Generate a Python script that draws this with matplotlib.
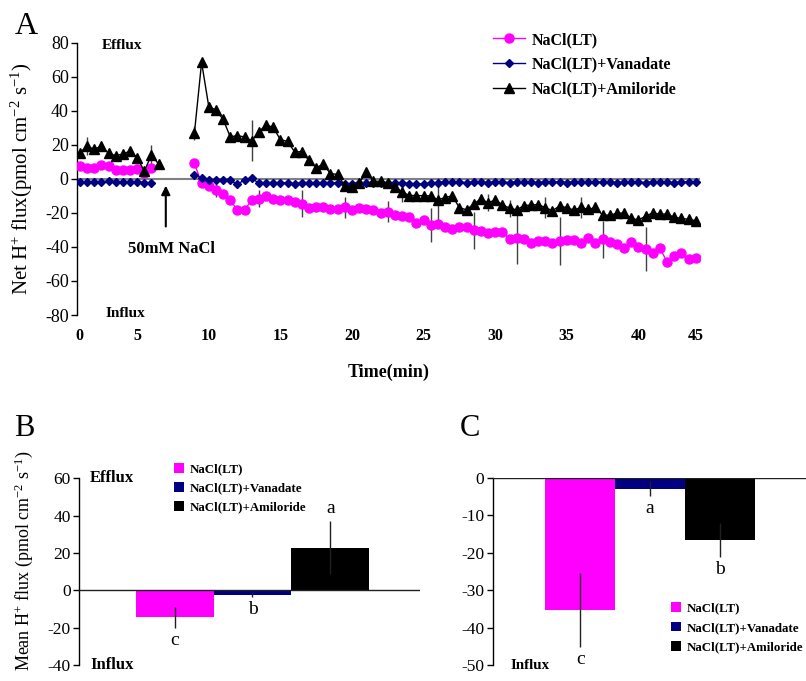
import numpy as np
import matplotlib
matplotlib.use('Agg')
import matplotlib.pyplot as plt
from matplotlib.patches import Patch
from matplotlib.lines import Line2D

plt.rcParams['font.family'] = ['Liberation Serif', 'DejaVu Serif']
plt.rcParams['mathtext.fontset'] = 'custom'
plt.rcParams['mathtext.rm'] = 'Liberation Serif'
plt.rcParams['mathtext.it'] = 'Liberation Serif:italic'
plt.rcParams['mathtext.bf'] = 'Liberation Serif:bold'
plt.rcParams['axes.unicode_minus'] = False

# ---------------- data ----------------
series_names = ['NaCl(LT)', 'NaCl(LT)+Vanadate', 'NaCl(LT)+Amiloride']
series_colors = ['#FF00FF', '#000080', '#000000']

# Panel A: samples before NaCl (start at sample 0) and after NaCl (start at sample 16)
pre_start = 0
post_start = 16
time_tick_samples = [0, 8, 18, 28, 38, 48, 58, 68, 78, 86]
time_tick_labels = ['0', '5', '10', '15', '20', '25', '30', '35', '40', '45']
nacl_sample = 12

pink_pre = [7.5, 6.5, 6.5, 8.3, 7.3, 5.0, 5.0, 5.0, 5.6, 3.4, 6.4]
blue_pre = [-1.7, -1.7, -1.7, -1.7, -1.3, -1.7, -1.7, -1.7, -1.7, -2.3, -2.3]
black_pre = [15.3, 19.3, 17.3, 19.3, 15.0, 13.6, 14.6, 16.3, 12.4, 4.6, 14.0, 8.7]

pink_post = [9.1, -2.7, -4.4, -6.8, -9.1, -12.5, -18.3, -18.2, -12.5, -11.8,
             -10.2, -11.8, -12.3, -12.7, -13.7, -14.5, -17.3, -16.5, -16.6, -17.5,
             -17.9, -16.8, -18.2, -17.0, -17.9, -18.3, -20.3, -19.3, -21.5, -21.9,
             -22.3, -25.7, -24.2, -27.1, -26.3, -28.2, -29.4, -28.5, -28.0, -30.2,
             -30.7, -31.6, -31.0, -31.3, -35.5, -35.0, -35.2, -37.5, -36.6, -36.6,
             -37.9, -36.4, -36.0, -36.0, -37.9, -35.0, -37.9, -35.5, -37.3, -38.5,
             -40.8, -37.3, -39.9, -41.4, -43.4, -40.8, -48.7, -45.4, -43.8, -47.3,
             -46.7]
blue_post = [2.5, 0.3, -0.7, -0.7, -0.7, -0.9, -3.3, -0.5, 0.3, -2.5,
             -2.3, -2.3, -2.3, -2.3, -2.8, -2.3, -2.3, -2.3, -2.3, -2.3,
             -2.3, -2.8, -2.8, -2.3, -2.3, -2.3, -2.3, -2.3, -2.3, -2.3,
             -2.8, -2.8, -3.1, -2.3, -2.3, -1.8, -1.8, -1.8, -2.3, -1.8,
             -1.8, -2.3, -1.8, -1.8, -2.3, -1.8, -1.8, -1.8, -2.3, -1.8,
             -1.8, -1.8, -2.3, -1.8, -1.8, -1.8, -1.8, -1.8, -1.8, -2.3,
             -1.8, -1.8, -1.8, -2.3, -1.8, -1.8, -1.8, -2.3, -1.8, -1.8,
             -1.8]
black_post = [27.0, 68.5, 42.5, 40.4, 35.0, 24.7, 25.4, 24.6, 22.3, 27.7,
              31.6, 30.3, 23.0, 22.0, 15.8, 16.0, 10.8, 6.6, 8.6, 3.0,
              2.7, -4.4, -4.8, -2.3, 3.9, -1.4, -1.4, -2.7, -4.6, -7.6,
              -9.8, -9.8, -9.9, -10.0, -12.3, -11.0, -10.0, -16.9, -18.2, -14.7,
              -11.8, -14.0, -12.5, -15.1, -17.3, -18.2, -15.7, -15.4, -15.1, -16.9,
              -18.7, -15.9, -17.0, -18.3, -16.8, -18.0, -16.8, -21.3, -21.3, -20.3,
              -20.0, -23.2, -24.2, -21.9, -20.0, -20.7, -20.7, -22.6, -23.2, -23.8,
              -24.6]

pink_err_samples = [19, 25, 31, 37, 43, 49, 55, 61, 67, 73, 79]
pink_err = [4, 5, 8, 6, 6, 10, 11, 15, 14, 11, 13]
black_err_samples = [1, 10, 16, 24, 45, 50, 57, 60, 65, 70]
black_err = [5.5, 6, 4, 12, 6, 13, 5, 5, 6, 6]

# Panel B and C: mean H+ flux
B_values = [-14.4, -2.3, 22.8]
B_err = [5.6, 1.3, 14.3]
B_letters = ['c', 'b', 'a']
C_values = [-35.3, -3.0, -16.6]
C_err = [9.8, 2.0, 4.5]
C_letters = ['c', 'a', 'b']

# ---------------- figure ----------------
W, H = 806, 681
fig = plt.figure(figsize=(W / 100, H / 100), dpi=100)


def box(l, t, r, b):
    return [l / W, 1 - b / H, (r - l) / W, (b - t) / H]


def style_left_axis(ax):
    for s in ['top', 'right', 'bottom']:
        ax.spines[s].set_visible(False)
    ax.spines['left'].set_linewidth(1.0)
    ax.tick_params(axis='y', direction='out', length=4, width=1, pad=2)


markers = ['o', 'D', '^']
msizes = [6.5, 4.3, 7]

# ---------- Panel A ----------
axA = fig.add_axes(box(77, 42.7, 700, 315))
style_left_axis(axA)
axA.axhline(0, color='#808080', lw=1.5, zorder=1)

pre_sets = [pink_pre, blue_pre, black_pre]
post_sets = [pink_post, blue_post, black_post]
draw_order = [1, 0, 2]
for i in draw_order:
    xs_pre = np.arange(len(pre_sets[i])) + pre_start
    xs_post = np.arange(len(post_sets[i])) + post_start
    for xs, ys in [(xs_pre, pre_sets[i]), (xs_post, post_sets[i])]:
        axA.plot(xs, ys, color=series_colors[i], lw=1.0, marker=markers[i],
                 ms=msizes[i], mec=series_colors[i], mfc=series_colors[i],
                 zorder=3 + i)

all_pink = dict(zip(list(np.arange(len(pink_pre)) + pre_start) +
                    list(np.arange(len(pink_post)) + post_start),
                    pink_pre + pink_post))
all_black = dict(zip(list(np.arange(len(black_pre)) + pre_start) +
                     list(np.arange(len(black_post)) + post_start),
                     black_pre + black_post))
axA.errorbar(pink_err_samples, [all_pink[s] for s in pink_err_samples],
             yerr=pink_err, fmt='none', ecolor='#404040', elinewidth=1.0,
             capsize=0, zorder=2)
axA.errorbar(black_err_samples, [all_black[s] for s in black_err_samples],
             yerr=black_err, fmt='none', ecolor='#404040', elinewidth=1.0,
             capsize=0, zorder=2)

axA.set_xlim(-0.4, 86.6)
axA.set_ylim(-80, 80)
axA.set_yticks(np.arange(-80, 81, 20))
axA.tick_params(axis='y', labelsize=13)
axA.set_xticks(time_tick_samples)
axA.set_xticklabels(time_tick_labels, fontweight='bold', fontsize=11.5)
axA.tick_params(axis='x', length=0, pad=9)
axA.set_xlabel('Time(min)', fontweight='bold', fontsize=13)
axA.xaxis.set_label_coords(0.5, -0.18)
axA.set_ylabel(r'Net H$^{+}$ flux(pmol cm$^{-2}$ s$^{-1}$)', fontsize=15)
axA.yaxis.set_label_coords(-0.067, 0.5)

axA.text(0.04, 78.5, 'Efflux', transform=axA.get_yaxis_transform(),
         fontweight='bold', fontsize=11, va='center', ha='left')
axA.text(0.045, -79, 'Influx', transform=axA.get_yaxis_transform(),
         fontweight='bold', fontsize=11, va='center', ha='left')

axA.annotate('', xy=(nacl_sample, -4), xytext=(nacl_sample, -28),
             arrowprops=dict(arrowstyle='-|>', color='k', lw=1.5,
                             mutation_scale=13, shrinkA=0, shrinkB=0))
axA.text(nacl_sample + 0.8, -41, '50mM NaCl', fontweight='bold', fontsize=12,
         ha='center', va='center')

handlesA = [Line2D([], [], color=series_colors[i], lw=1.0, marker=markers[i],
                   ms=msizes[i], mec=series_colors[i], mfc=series_colors[i])
            for i in range(3)]
axA.legend(handlesA, series_names, loc='upper left',
           bbox_to_anchor=(493 / W, 1 - 32 / H), bbox_transform=fig.transFigure,
           frameon=False, prop=dict(weight='bold', size=11.5), handlelength=2.0,
           handletextpad=0.4, labelspacing=0.55, borderpad=0, borderaxespad=0)


# ---------- Panels B and C ----------
def bar_panel(ax, values, errs, letters, ylim, yticks, letter_off):
    style_left_axis(ax)
    xs = np.arange(len(values))
    ax.bar(xs, values, width=1.0, color=series_colors, edgecolor='none', zorder=2)
    ax.errorbar(xs, values, yerr=errs, fmt='none', ecolor='#202020',
                elinewidth=1.0, capsize=0, zorder=3)
    ax.axhline(0, color='#202020', lw=1.0, zorder=4)
    for x, v, e, t in zip(xs, values, errs, letters):
        sgn = 1 if v > 0 else -1
        ax.annotate(t, xy=(x, v + sgn * e), xytext=(0, sgn * letter_off),
                    textcoords='offset points', ha='center', va='center',
                    fontsize=14)
    ax.set_ylim(*ylim)
    ax.set_yticks(yticks)
    ax.tick_params(axis='y', labelsize=12.5)
    ax.set_xticks([])


axB = fig.add_axes(box(79, 478.3, 420, 665))
bar_panel(axB, B_values, B_err, B_letters, (-40, 60), np.arange(-40, 61, 20), 9)
axB.set_xlim(-1.23, 3.153)
axB.set_ylabel(r'Mean H$^{+}$ flux (pmol cm$^{-2}$ s$^{-1}$)', fontsize=13)
axB.yaxis.set_label_coords(-0.13, 0.56)
axB.text(0.032, 60, 'Efflux', transform=axB.get_yaxis_transform(),
         fontweight='bold', fontsize=12, va='center', ha='left')
axB.text(0.032, -40, 'Influx', transform=axB.get_yaxis_transform(),
         fontweight='bold', fontsize=12, va='center', ha='left')
handlesBC = [Patch(facecolor=c, edgecolor='none') for c in series_colors]
axB.legend(handlesBC, series_names, loc='upper left',
           bbox_to_anchor=(174 / W, 1 - 463 / H), bbox_transform=fig.transFigure,
           frameon=False, prop=dict(weight='bold', size=9.3), handlelength=0.8,
           handleheight=0.8, handletextpad=0.4, labelspacing=0.5,
           borderpad=0, borderaxespad=0)

axC = fig.add_axes(box(492.7, 477.7, 806, 665))
bar_panel(axC, C_values, C_err, C_letters, (-50, 0), np.arange(-50, 1, 10), 9)
axC.set_xlim(-1.257, 3.238)
axC.text(0.057, -50.2, 'Influx', transform=axC.get_yaxis_transform(),
         fontweight='bold', fontsize=10.8, va='center', ha='left')
axC.legend(handlesBC, series_names, loc='upper left',
           bbox_to_anchor=(671 / W, 1 - 602 / H), bbox_transform=fig.transFigure,
           frameon=False, prop=dict(weight='bold', size=9.3), handlelength=0.8,
           handleheight=0.8, handletextpad=0.4, labelspacing=0.55,
           borderpad=0, borderaxespad=0)

# panel letters
fig.text(26 / W, 1 - 26 / H, 'A', fontsize=23, ha='center', va='center')
fig.text(24 / W, 1 - 428 / H, 'B', fontsize=22, ha='center', va='center')
fig.text(470 / W, 1 - 429 / H, 'C', fontsize=22, ha='center', va='center')

fig.savefig('out.png', dpi=100)
